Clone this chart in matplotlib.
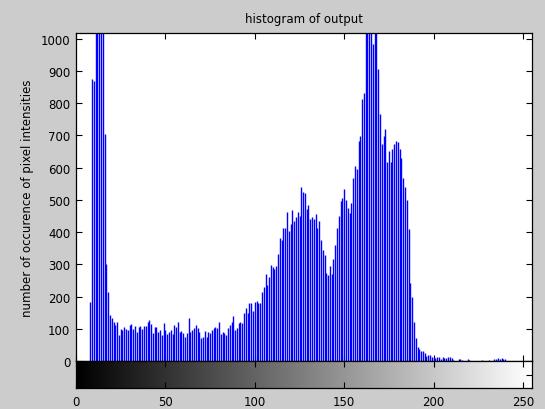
import matplotlib
matplotlib.use("Agg")
import matplotlib.pyplot as plt
import numpy as np

# conteo por nivel de gris (0..255)
conteos = [
    0, 0, 0, 0, 0, 0, 0, 0, 184, 874, 868, 1500, 1900, 2100, 1800, 1300,
    703, 300, 213, 142, 132, 120, 113, 120, 81, 99, 96, 106, 99, 96, 113, 116,
    99, 110, 90, 106, 109, 100, 109, 109, 120, 127, 116, 87, 106, 106, 89, 95,
    81, 117, 96, 84, 90, 96, 84, 113, 106, 120, 91, 94, 86, 73, 88, 132,
    91, 96, 101, 112, 101, 91, 70, 75, 94, 73, 89, 86, 96, 101, 104, 102,
    122, 84, 91, 86, 81, 103, 112, 122, 139, 96, 103, 117, 122, 117, 148, 163,
    148, 179, 179, 154, 184, 187, 180, 180, 213, 228, 270, 236, 259, 299, 293, 285,
    296, 332, 380, 376, 411, 414, 461, 404, 425, 469, 435, 448, 463, 450, 541, 523,
    521, 471, 484, 440, 447, 440, 456, 411, 435, 375, 344, 329, 273, 267, 296, 270,
    316, 360, 414, 450, 496, 507, 533, 500, 476, 458, 490, 569, 605, 595, 683, 698,
    814, 831, 1150, 1300, 1250, 1100, 983, 1200, 1080, 905, 766, 673, 698, 719, 616, 652,
    616, 657, 673, 683, 678, 657, 631, 566, 540, 499, 409, 242, 197, 120, 71, 42,
    37, 30, 31, 24, 17, 20, 20, 14, 11, 10, 13, 13, 6, 12, 10, 9,
    11, 11, 9, 3, 0, 0, 6, 5, 3, 0, 0, 5, 2, 0, 0, 0,
    0, 0, 0, 2, 0, 0, 0, 2, 0, 0, 5, 6, 8, 6, 10, 6,
    5, 0, 0, 0, 0, 0, 0, 0, 0, 0, 0, 0, 0, 0, 0, 0,
]
niveles = list(range(256))
ticks_y = [0, 100, 200, 300, 400, 500, 600, 700, 800, 900, 1000]
ticks_x = [0, 50, 100, 150, 200, 250]
y_max = 1017

titulo = "histogram of output"
etiqueta_y = "number of occurence of pixel intensities"

FONDO = "#cccccc"
TAM = 8.5


def dibujar_histograma(ax):
    """lineas verticales, una por nivel de gris"""
    ax.vlines(niveles, 0, conteos, colors="#0000ff", linewidth=1.0)
    ax.set_xlim(0, 255)
    ax.set_ylim(0, y_max)
    ax.set_facecolor("white")
    ax.set_yticks(ticks_y)
    ax.set_xticks(ticks_x)
    ax.tick_params(axis="both", direction="in", length=4, width=0.8,
                   top=True, right=True, labelsize=TAM, pad=4)
    ax.tick_params(axis="x", labelbottom=False)
    ax.set_title(titulo, fontsize=TAM, pad=8)
    ax.set_ylabel(etiqueta_y, fontsize=TAM)
    ax.yaxis.set_label_coords(-0.092, 0.5)
    for lado in ax.spines.values():
        lado.set_linewidth(0.9)


def dibujar_barra_gris(ax):
    """barra de degradado negro -> blanco debajo del histograma"""
    degradado = np.arange(256).reshape(1, -1)
    ax.imshow(degradado, cmap="gray", aspect="auto",
              extent=(0, 255, 0, 1), vmin=0, vmax=255)
    ax.set_xlim(0, 255)
    ax.set_ylim(0, 1)
    ax.set_xticks(ticks_x)
    ax.set_yticks([0.5])
    ax.set_yticklabels([])
    ax.tick_params(axis="both", direction="in", length=4, width=0.8,
                   top=True, right=True, labelsize=TAM, pad=5)
    for lado in ax.spines.values():
        lado.set_linewidth(0.9)


def main():
    fig = plt.figure(figsize=(5.45, 4.10), dpi=100, facecolor=FONDO)
    ax = fig.add_axes([0.1394, 0.117, 0.8367, 0.800])
    ax_barra = fig.add_axes([0.1394, 0.0512, 0.8367, 0.0658])

    dibujar_histograma(ax)
    dibujar_barra_gris(ax_barra)

    fig.savefig("out.png", dpi=100, facecolor=FONDO)
    plt.close(fig)


if __name__ == "__main__":
    main()
